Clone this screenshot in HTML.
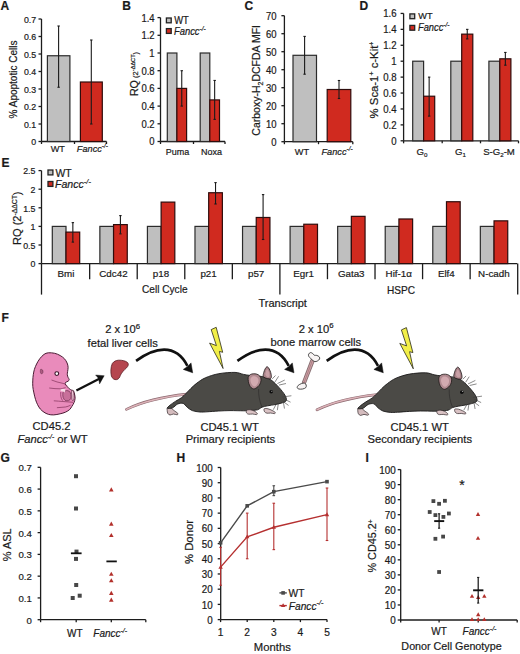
<!DOCTYPE html><html><head><meta charset="utf-8"><style>html,body{margin:0;padding:0;background:#fff;}svg{display:block;}text{font-family:"Liberation Sans",sans-serif;stroke:#1a1a1a;stroke-width:0.2px;}</style></head><body>
<svg width="520" height="654" viewBox="0 0 520 654">
<rect width="520" height="654" fill="#fff"/>
<text x="0.6" y="10" font-size="12" font-weight="bold" fill="#1a1a1a" >A</text>
<line x1="41.5" y1="141.5" x2="41.5" y2="19" stroke="#1c1c1c" stroke-width="1.3" />
<line x1="38.5" y1="141.5" x2="41.5" y2="141.5" stroke="#1c1c1c" stroke-width="1.3" />
<text transform="translate(36.2,145.2) scale(1,1.08)" font-size="8.8" text-anchor="end" fill="#1a1a1a" >0</text>
<line x1="38.5" y1="124" x2="41.5" y2="124" stroke="#1c1c1c" stroke-width="1.3" />
<text transform="translate(36.2,127.7) scale(1,1.08)" font-size="8.8" text-anchor="end" fill="#1a1a1a" >0.1</text>
<line x1="38.5" y1="106.5" x2="41.5" y2="106.5" stroke="#1c1c1c" stroke-width="1.3" />
<text transform="translate(36.2,110.2) scale(1,1.08)" font-size="8.8" text-anchor="end" fill="#1a1a1a" >0.2</text>
<line x1="38.5" y1="89" x2="41.5" y2="89" stroke="#1c1c1c" stroke-width="1.3" />
<text transform="translate(36.2,92.7) scale(1,1.08)" font-size="8.8" text-anchor="end" fill="#1a1a1a" >0.3</text>
<line x1="38.5" y1="71.5" x2="41.5" y2="71.5" stroke="#1c1c1c" stroke-width="1.3" />
<text transform="translate(36.2,75.2) scale(1,1.08)" font-size="8.8" text-anchor="end" fill="#1a1a1a" >0.4</text>
<line x1="38.5" y1="54" x2="41.5" y2="54" stroke="#1c1c1c" stroke-width="1.3" />
<text transform="translate(36.2,57.7) scale(1,1.08)" font-size="8.8" text-anchor="end" fill="#1a1a1a" >0.5</text>
<line x1="38.5" y1="36.5" x2="41.5" y2="36.5" stroke="#1c1c1c" stroke-width="1.3" />
<text transform="translate(36.2,40.2) scale(1,1.08)" font-size="8.8" text-anchor="end" fill="#1a1a1a" >0.6</text>
<line x1="38.5" y1="19" x2="41.5" y2="19" stroke="#1c1c1c" stroke-width="1.3" />
<text transform="translate(36.2,22.7) scale(1,1.08)" font-size="8.8" text-anchor="end" fill="#1a1a1a" >0.7</text>
<line x1="41.5" y1="141.5" x2="106.5" y2="141.5" stroke="#1c1c1c" stroke-width="1.3" />
<line x1="41.5" y1="141.5" x2="41.5" y2="144" stroke="#1c1c1c" stroke-width="1.3" />
<line x1="74.5" y1="141.5" x2="74.5" y2="144" stroke="#1c1c1c" stroke-width="1.3" />
<line x1="106.5" y1="141.5" x2="106.5" y2="144" stroke="#1c1c1c" stroke-width="1.3" />
<rect x="47.4" y="55.75" width="22.5" height="85.75" fill="#bfbfbf" stroke="#2b2b2b" stroke-width="1.2"/>
<rect x="80.4" y="82" width="21.9" height="59.5" fill="#d02a1f" stroke="#2e0c0c" stroke-width="1.2"/>
<line x1="58.6" y1="26" x2="58.6" y2="87.25" stroke="#1a1a1a" stroke-width="1.1" />
<line x1="57.4" y1="26" x2="59.8" y2="26" stroke="#1a1a1a" stroke-width="1.1" />
<line x1="57.4" y1="87.25" x2="59.8" y2="87.25" stroke="#1a1a1a" stroke-width="1.1" />
<line x1="91.3" y1="40" x2="91.3" y2="124" stroke="#1a1a1a" stroke-width="1.1" />
<line x1="90.1" y1="40" x2="92.5" y2="40" stroke="#1a1a1a" stroke-width="1.1" />
<line x1="90.1" y1="124" x2="92.5" y2="124" stroke="#1a1a1a" stroke-width="1.1" />
<text transform="translate(57.8,152) scale(1,1.08)" font-size="9.2" text-anchor="middle" fill="#1a1a1a" >WT</text>
<text transform="translate(76.8,151.8) scale(1,1.08)" font-size="9.2" fill="#1a1a1a"><tspan font-style="italic">Fancc</tspan><tspan font-size="6.44" dy="-3.5" font-style="italic">-/-</tspan></text>
<text transform="translate(16.6,79.5) rotate(-90)" font-size="10" text-anchor="middle" fill="#1a1a1a">% Apoptotic Cells</text>
<text x="122.2" y="10" font-size="12" font-weight="bold" fill="#1a1a1a" >B</text>
<line x1="160.5" y1="141.5" x2="160.5" y2="17.6" stroke="#1c1c1c" stroke-width="1.3" />
<line x1="157.5" y1="141.5" x2="160.5" y2="141.5" stroke="#1c1c1c" stroke-width="1.3" />
<text transform="translate(154.6,145.49) scale(1,1.08)" font-size="9.5" text-anchor="end" fill="#1a1a1a" >0</text>
<line x1="157.5" y1="123.8" x2="160.5" y2="123.8" stroke="#1c1c1c" stroke-width="1.3" />
<text transform="translate(154.6,127.79) scale(1,1.08)" font-size="9.5" text-anchor="end" fill="#1a1a1a" >0.2</text>
<line x1="157.5" y1="106.1" x2="160.5" y2="106.1" stroke="#1c1c1c" stroke-width="1.3" />
<text transform="translate(154.6,110.09) scale(1,1.08)" font-size="9.5" text-anchor="end" fill="#1a1a1a" >0.4</text>
<line x1="157.5" y1="88.4" x2="160.5" y2="88.4" stroke="#1c1c1c" stroke-width="1.3" />
<text transform="translate(154.6,92.39) scale(1,1.08)" font-size="9.5" text-anchor="end" fill="#1a1a1a" >0.6</text>
<line x1="157.5" y1="70.7" x2="160.5" y2="70.7" stroke="#1c1c1c" stroke-width="1.3" />
<text transform="translate(154.6,74.69) scale(1,1.08)" font-size="9.5" text-anchor="end" fill="#1a1a1a" >0.8</text>
<line x1="157.5" y1="53" x2="160.5" y2="53" stroke="#1c1c1c" stroke-width="1.3" />
<text transform="translate(154.6,56.99) scale(1,1.08)" font-size="9.5" text-anchor="end" fill="#1a1a1a" >1</text>
<line x1="157.5" y1="35.3" x2="160.5" y2="35.3" stroke="#1c1c1c" stroke-width="1.3" />
<text transform="translate(154.6,39.29) scale(1,1.08)" font-size="9.5" text-anchor="end" fill="#1a1a1a" >1.2</text>
<line x1="157.5" y1="17.6" x2="160.5" y2="17.6" stroke="#1c1c1c" stroke-width="1.3" />
<text transform="translate(154.6,21.59) scale(1,1.08)" font-size="9.5" text-anchor="end" fill="#1a1a1a" >1.4</text>
<line x1="160.5" y1="141.5" x2="225" y2="141.5" stroke="#1c1c1c" stroke-width="1.3" />
<line x1="160.5" y1="141.5" x2="160.5" y2="144" stroke="#1c1c1c" stroke-width="1.3" />
<line x1="193.5" y1="141.5" x2="193.5" y2="144" stroke="#1c1c1c" stroke-width="1.3" />
<line x1="225" y1="141.5" x2="225" y2="144" stroke="#1c1c1c" stroke-width="1.3" />
<rect x="167.3" y="53" width="9.6" height="88.5" fill="#bfbfbf" stroke="#2b2b2b" stroke-width="1.2"/>
<rect x="176.9" y="88.4" width="9.7" height="53.1" fill="#d02a1f" stroke="#2e0c0c" stroke-width="1.2"/>
<line x1="181.75" y1="70.7" x2="181.75" y2="106.1" stroke="#1a1a1a" stroke-width="1.1" />
<line x1="180.55" y1="70.7" x2="182.95" y2="70.7" stroke="#1a1a1a" stroke-width="1.1" />
<line x1="180.55" y1="106.1" x2="182.95" y2="106.1" stroke="#1a1a1a" stroke-width="1.1" />
<rect x="200.2" y="53" width="9.6" height="88.5" fill="#bfbfbf" stroke="#2b2b2b" stroke-width="1.2"/>
<rect x="209.8" y="99.91" width="9.7" height="41.59" fill="#d02a1f" stroke="#2e0c0c" stroke-width="1.2"/>
<line x1="214.65" y1="80.44" x2="214.65" y2="119.38" stroke="#1a1a1a" stroke-width="1.1" />
<line x1="213.45" y1="80.44" x2="215.85" y2="80.44" stroke="#1a1a1a" stroke-width="1.1" />
<line x1="213.45" y1="119.38" x2="215.85" y2="119.38" stroke="#1a1a1a" stroke-width="1.1" />
<text transform="translate(177.5,154.7) scale(1,1.08)" font-size="9" text-anchor="middle" fill="#1a1a1a" >Puma</text>
<text transform="translate(211.4,154.7) scale(1,1.08)" font-size="9" text-anchor="middle" fill="#1a1a1a" >Noxa</text>
<rect x="166.4" y="18" width="4.8" height="4.8" fill="#bfbfbf" stroke="#222" stroke-width="1.3"/>
<text transform="translate(174.2,23.6) scale(1,1.08)" font-size="9.4" fill="#1a1a1a" >WT</text>
<rect x="166.4" y="28.6" width="4.8" height="4.8" fill="#d02a1f" stroke="#222" stroke-width="1.3"/>
<text transform="translate(174,34.6) scale(1,1.08)" font-size="9.4" fill="#1a1a1a"><tspan font-style="italic">Fancc</tspan><tspan font-size="6.58" dy="-3.57" font-style="italic">-/-</tspan></text>
<text transform="translate(138.4,74) rotate(-90)" text-anchor="middle" fill="#1a1a1a" font-size="10.7">RQ<tspan font-size="7.6"> (2<tspan font-size="5.6" dy="-3.2">-ΔΔCT</tspan><tspan dy="3.2">)</tspan></tspan></text>
<text x="244.4" y="10" font-size="12" font-weight="bold" fill="#1a1a1a" >C</text>
<line x1="284.4" y1="141.7" x2="284.4" y2="15.7" stroke="#1c1c1c" stroke-width="1.3" />
<line x1="281.4" y1="141.7" x2="284.4" y2="141.7" stroke="#1c1c1c" stroke-width="1.3" />
<text transform="translate(276.6,145.69) scale(1,1.08)" font-size="9.5" text-anchor="end" fill="#1a1a1a" >0</text>
<line x1="281.4" y1="123.7" x2="284.4" y2="123.7" stroke="#1c1c1c" stroke-width="1.3" />
<text transform="translate(276.6,127.69) scale(1,1.08)" font-size="9.5" text-anchor="end" fill="#1a1a1a" >10</text>
<line x1="281.4" y1="105.7" x2="284.4" y2="105.7" stroke="#1c1c1c" stroke-width="1.3" />
<text transform="translate(276.6,109.69) scale(1,1.08)" font-size="9.5" text-anchor="end" fill="#1a1a1a" >20</text>
<line x1="281.4" y1="87.7" x2="284.4" y2="87.7" stroke="#1c1c1c" stroke-width="1.3" />
<text transform="translate(276.6,91.69) scale(1,1.08)" font-size="9.5" text-anchor="end" fill="#1a1a1a" >30</text>
<line x1="281.4" y1="69.7" x2="284.4" y2="69.7" stroke="#1c1c1c" stroke-width="1.3" />
<text transform="translate(276.6,73.69) scale(1,1.08)" font-size="9.5" text-anchor="end" fill="#1a1a1a" >40</text>
<line x1="281.4" y1="51.7" x2="284.4" y2="51.7" stroke="#1c1c1c" stroke-width="1.3" />
<text transform="translate(276.6,55.69) scale(1,1.08)" font-size="9.5" text-anchor="end" fill="#1a1a1a" >50</text>
<line x1="281.4" y1="33.7" x2="284.4" y2="33.7" stroke="#1c1c1c" stroke-width="1.3" />
<text transform="translate(276.6,37.69) scale(1,1.08)" font-size="9.5" text-anchor="end" fill="#1a1a1a" >60</text>
<line x1="281.4" y1="15.7" x2="284.4" y2="15.7" stroke="#1c1c1c" stroke-width="1.3" />
<text transform="translate(276.6,19.69) scale(1,1.08)" font-size="9.5" text-anchor="end" fill="#1a1a1a" >70</text>
<line x1="284.4" y1="141.7" x2="352.8" y2="141.7" stroke="#1c1c1c" stroke-width="1.3" />
<line x1="284.4" y1="141.7" x2="284.4" y2="144.2" stroke="#1c1c1c" stroke-width="1.3" />
<line x1="318.5" y1="141.7" x2="318.5" y2="144.2" stroke="#1c1c1c" stroke-width="1.3" />
<line x1="352.8" y1="141.7" x2="352.8" y2="144.2" stroke="#1c1c1c" stroke-width="1.3" />
<rect x="293" y="55.3" width="23.5" height="86.4" fill="#bfbfbf" stroke="#2b2b2b" stroke-width="1.2"/>
<rect x="327.2" y="89.5" width="23.6" height="52.2" fill="#d02a1f" stroke="#2e0c0c" stroke-width="1.2"/>
<line x1="304.6" y1="36.4" x2="304.6" y2="74.2" stroke="#1a1a1a" stroke-width="1.1" />
<line x1="303.4" y1="36.4" x2="305.8" y2="36.4" stroke="#1a1a1a" stroke-width="1.1" />
<line x1="303.4" y1="74.2" x2="305.8" y2="74.2" stroke="#1a1a1a" stroke-width="1.1" />
<line x1="339" y1="80.5" x2="339" y2="98.5" stroke="#1a1a1a" stroke-width="1.1" />
<line x1="337.8" y1="80.5" x2="340.2" y2="80.5" stroke="#1a1a1a" stroke-width="1.1" />
<line x1="337.8" y1="98.5" x2="340.2" y2="98.5" stroke="#1a1a1a" stroke-width="1.1" />
<text transform="translate(302,154.6) scale(1,1.08)" font-size="9.2" text-anchor="middle" fill="#1a1a1a" >WT</text>
<text transform="translate(321.5,154.6) scale(1,1.08)" font-size="9.2" fill="#1a1a1a"><tspan font-style="italic">Fancc</tspan><tspan font-size="6.44" dy="-3.5" font-style="italic">-/-</tspan></text>
<text transform="translate(260.3,80.3) rotate(-90)" text-anchor="middle" fill="#1a1a1a" font-size="10.5">Carboxy-H<tspan font-size="7" dy="2.5">2</tspan><tspan dy="-2.5">DCFDA MFI</tspan></text>
<text x="359.6" y="10" font-size="12" font-weight="bold" fill="#1a1a1a" >D</text>
<line x1="403.6" y1="140.8" x2="403.6" y2="13.44" stroke="#1c1c1c" stroke-width="1.3" />
<line x1="400.6" y1="140.8" x2="403.6" y2="140.8" stroke="#1c1c1c" stroke-width="1.3" />
<text transform="translate(396.6,144.83) scale(1,1.08)" font-size="9.6" text-anchor="end" fill="#1a1a1a" >0</text>
<line x1="400.6" y1="124.88" x2="403.6" y2="124.88" stroke="#1c1c1c" stroke-width="1.3" />
<text transform="translate(396.6,128.91) scale(1,1.08)" font-size="9.6" text-anchor="end" fill="#1a1a1a" >0.2</text>
<line x1="400.6" y1="108.96" x2="403.6" y2="108.96" stroke="#1c1c1c" stroke-width="1.3" />
<text transform="translate(396.6,112.99) scale(1,1.08)" font-size="9.6" text-anchor="end" fill="#1a1a1a" >0.4</text>
<line x1="400.6" y1="93.04" x2="403.6" y2="93.04" stroke="#1c1c1c" stroke-width="1.3" />
<text transform="translate(396.6,97.07) scale(1,1.08)" font-size="9.6" text-anchor="end" fill="#1a1a1a" >0.6</text>
<line x1="400.6" y1="77.12" x2="403.6" y2="77.12" stroke="#1c1c1c" stroke-width="1.3" />
<text transform="translate(396.6,81.15) scale(1,1.08)" font-size="9.6" text-anchor="end" fill="#1a1a1a" >0.8</text>
<line x1="400.6" y1="61.2" x2="403.6" y2="61.2" stroke="#1c1c1c" stroke-width="1.3" />
<text transform="translate(396.6,65.23) scale(1,1.08)" font-size="9.6" text-anchor="end" fill="#1a1a1a" >1</text>
<line x1="400.6" y1="45.28" x2="403.6" y2="45.28" stroke="#1c1c1c" stroke-width="1.3" />
<text transform="translate(396.6,49.31) scale(1,1.08)" font-size="9.6" text-anchor="end" fill="#1a1a1a" >1.2</text>
<line x1="400.6" y1="29.36" x2="403.6" y2="29.36" stroke="#1c1c1c" stroke-width="1.3" />
<text transform="translate(396.6,33.39) scale(1,1.08)" font-size="9.6" text-anchor="end" fill="#1a1a1a" >1.4</text>
<line x1="400.6" y1="13.44" x2="403.6" y2="13.44" stroke="#1c1c1c" stroke-width="1.3" />
<text transform="translate(396.6,17.47) scale(1,1.08)" font-size="9.6" text-anchor="end" fill="#1a1a1a" >1.6</text>
<line x1="403.6" y1="140.8" x2="518.5" y2="140.8" stroke="#1c1c1c" stroke-width="1.3" />
<line x1="403.6" y1="140.8" x2="403.6" y2="143.3" stroke="#1c1c1c" stroke-width="1.3" />
<line x1="442.2" y1="140.8" x2="442.2" y2="143.3" stroke="#1c1c1c" stroke-width="1.3" />
<line x1="480.5" y1="140.8" x2="480.5" y2="143.3" stroke="#1c1c1c" stroke-width="1.3" />
<line x1="518.5" y1="140.8" x2="518.5" y2="143.3" stroke="#1c1c1c" stroke-width="1.3" />
<rect x="412.7" y="61.2" width="10.9" height="79.6" fill="#bfbfbf" stroke="#2b2b2b" stroke-width="1.2"/>
<rect x="423.6" y="96.22" width="11.1" height="44.58" fill="#d02a1f" stroke="#2e0c0c" stroke-width="1.2"/>
<line x1="429.15" y1="77.12" x2="429.15" y2="116.12" stroke="#1a1a1a" stroke-width="1.1" />
<line x1="427.95" y1="77.12" x2="430.35" y2="77.12" stroke="#1a1a1a" stroke-width="1.1" />
<line x1="427.95" y1="116.12" x2="430.35" y2="116.12" stroke="#1a1a1a" stroke-width="1.1" />
<rect x="450.8" y="61.2" width="10.9" height="79.6" fill="#bfbfbf" stroke="#2b2b2b" stroke-width="1.2"/>
<rect x="461.7" y="34.14" width="11.1" height="106.66" fill="#d02a1f" stroke="#2e0c0c" stroke-width="1.2"/>
<line x1="467.25" y1="29.36" x2="467.25" y2="38.91" stroke="#1a1a1a" stroke-width="1.1" />
<line x1="466.05" y1="29.36" x2="468.45" y2="29.36" stroke="#1a1a1a" stroke-width="1.1" />
<line x1="466.05" y1="38.91" x2="468.45" y2="38.91" stroke="#1a1a1a" stroke-width="1.1" />
<rect x="488.9" y="61.2" width="10.9" height="79.6" fill="#bfbfbf" stroke="#2b2b2b" stroke-width="1.2"/>
<rect x="499.8" y="58.81" width="11.1" height="81.99" fill="#d02a1f" stroke="#2e0c0c" stroke-width="1.2"/>
<line x1="505.35" y1="52.44" x2="505.35" y2="65.18" stroke="#1a1a1a" stroke-width="1.1" />
<line x1="504.15" y1="52.44" x2="506.55" y2="52.44" stroke="#1a1a1a" stroke-width="1.1" />
<line x1="504.15" y1="65.18" x2="506.55" y2="65.18" stroke="#1a1a1a" stroke-width="1.1" />
<text x="422" y="155.4" font-size="9.6" text-anchor="middle" fill="#1a1a1a">G<tspan font-size="6.2" dy="1.8">0</tspan></text>
<text x="460.5" y="155.4" font-size="9.6" text-anchor="middle" fill="#1a1a1a">G<tspan font-size="6.2" dy="1.8">1</tspan></text>
<text x="499" y="155.4" font-size="9.6" text-anchor="middle" fill="#1a1a1a">S-G<tspan font-size="6.2" dy="1.8">2</tspan><tspan dy="-1.8">-M</tspan></text>
<rect x="409.9" y="13.9" width="4.8" height="4.8" fill="#bfbfbf" stroke="#222" stroke-width="1.3"/>
<text transform="translate(418.3,19) scale(1,1.08)" font-size="9.2" fill="#1a1a1a" >WT</text>
<rect x="409.9" y="25.4" width="4.8" height="4.8" fill="#d02a1f" stroke="#222" stroke-width="1.3"/>
<text transform="translate(418,30.9) scale(1,1.08)" font-size="9.3" fill="#1a1a1a"><tspan font-style="italic">Fancc</tspan><tspan font-size="6.51" dy="-3.53" font-style="italic">-/-</tspan></text>
<text transform="translate(377.6,80) rotate(-90) scale(1.07,1)" text-anchor="middle" fill="#1a1a1a" font-size="10.6">% Sca-1<tspan font-size="6.5" dy="-3.6">+</tspan><tspan dy="3.6"> c-Kit</tspan><tspan font-size="6.5" dy="-3.6">+</tspan></text>
<text x="1.5" y="167.2" font-size="12" font-weight="bold" fill="#1a1a1a" >E</text>
<line x1="41.5" y1="263.6" x2="41.5" y2="170.6" stroke="#1c1c1c" stroke-width="1.3" />
<line x1="38.5" y1="263.6" x2="41.5" y2="263.6" stroke="#1c1c1c" stroke-width="1.3" />
<text x="35.4" y="267.3" font-size="8.8" text-anchor="end" fill="#1a1a1a" >0</text>
<line x1="38.5" y1="245" x2="41.5" y2="245" stroke="#1c1c1c" stroke-width="1.3" />
<text x="35.4" y="248.7" font-size="8.8" text-anchor="end" fill="#1a1a1a" >0.5</text>
<line x1="38.5" y1="226.4" x2="41.5" y2="226.4" stroke="#1c1c1c" stroke-width="1.3" />
<text x="35.4" y="230.1" font-size="8.8" text-anchor="end" fill="#1a1a1a" >1</text>
<line x1="38.5" y1="207.8" x2="41.5" y2="207.8" stroke="#1c1c1c" stroke-width="1.3" />
<text x="35.4" y="211.5" font-size="8.8" text-anchor="end" fill="#1a1a1a" >1.5</text>
<line x1="38.5" y1="189.2" x2="41.5" y2="189.2" stroke="#1c1c1c" stroke-width="1.3" />
<text x="35.4" y="192.9" font-size="8.8" text-anchor="end" fill="#1a1a1a" >2</text>
<line x1="38.5" y1="170.6" x2="41.5" y2="170.6" stroke="#1c1c1c" stroke-width="1.3" />
<text x="35.4" y="174.3" font-size="8.8" text-anchor="end" fill="#1a1a1a" >2.5</text>
<line x1="41.5" y1="263.6" x2="517.2" y2="263.6" stroke="#1c1c1c" stroke-width="1.3" />
<line x1="41.5" y1="263.6" x2="41.5" y2="294.6" stroke="#1c1c1c" stroke-width="1.3" />
<line x1="89.66" y1="263.6" x2="89.66" y2="279.2" stroke="#1c1c1c" stroke-width="1.3" />
<line x1="137.22" y1="263.6" x2="137.22" y2="279.2" stroke="#1c1c1c" stroke-width="1.3" />
<line x1="184.78" y1="263.6" x2="184.78" y2="279.2" stroke="#1c1c1c" stroke-width="1.3" />
<line x1="232.34" y1="263.6" x2="232.34" y2="279.2" stroke="#1c1c1c" stroke-width="1.3" />
<line x1="279.9" y1="263.6" x2="279.9" y2="294.6" stroke="#1c1c1c" stroke-width="1.3" />
<line x1="327.46" y1="263.6" x2="327.46" y2="279.2" stroke="#1c1c1c" stroke-width="1.3" />
<line x1="375.02" y1="263.6" x2="375.02" y2="279.2" stroke="#1c1c1c" stroke-width="1.3" />
<line x1="422.58" y1="263.6" x2="422.58" y2="279.2" stroke="#1c1c1c" stroke-width="1.3" />
<line x1="470.14" y1="263.6" x2="470.14" y2="279.2" stroke="#1c1c1c" stroke-width="1.3" />
<line x1="517.7" y1="263.6" x2="517.7" y2="294.6" stroke="#1c1c1c" stroke-width="1.3" />
<rect x="52.3" y="226.4" width="13.7" height="37.2" fill="#bfbfbf" stroke="#2b2b2b" stroke-width="1.2"/>
<rect x="66" y="232.1" width="13.7" height="31.5" fill="#d02a1f" stroke="#2e0c0c" stroke-width="1.2"/>
<line x1="72.85" y1="222.62" x2="72.85" y2="242.11" stroke="#1a1a1a" stroke-width="1.1" />
<line x1="71.65" y1="222.62" x2="74.05" y2="222.62" stroke="#1a1a1a" stroke-width="1.1" />
<line x1="71.65" y1="242.11" x2="74.05" y2="242.11" stroke="#1a1a1a" stroke-width="1.1" />
<text x="65.88" y="277.4" font-size="9.8" text-anchor="middle" fill="#1a1a1a" >Bmi</text>
<rect x="99.86" y="226.4" width="13.7" height="37.2" fill="#bfbfbf" stroke="#2b2b2b" stroke-width="1.2"/>
<rect x="113.56" y="224.6" width="13.7" height="39" fill="#d02a1f" stroke="#2e0c0c" stroke-width="1.2"/>
<line x1="120.41" y1="215.6" x2="120.41" y2="233.86" stroke="#1a1a1a" stroke-width="1.1" />
<line x1="119.21" y1="215.6" x2="121.61" y2="215.6" stroke="#1a1a1a" stroke-width="1.1" />
<line x1="119.21" y1="233.86" x2="121.61" y2="233.86" stroke="#1a1a1a" stroke-width="1.1" />
<text x="113.44" y="277.4" font-size="9.8" text-anchor="middle" fill="#1a1a1a" >Cdc42</text>
<rect x="147.42" y="226.4" width="13.7" height="37.2" fill="#bfbfbf" stroke="#2b2b2b" stroke-width="1.2"/>
<rect x="161.12" y="202.1" width="13.7" height="61.5" fill="#d02a1f" stroke="#2e0c0c" stroke-width="1.2"/>
<text x="161" y="277.4" font-size="9.8" text-anchor="middle" fill="#1a1a1a" >p18</text>
<rect x="194.98" y="226.4" width="13.7" height="37.2" fill="#bfbfbf" stroke="#2b2b2b" stroke-width="1.2"/>
<rect x="208.68" y="192.73" width="13.7" height="70.87" fill="#d02a1f" stroke="#2e0c0c" stroke-width="1.2"/>
<line x1="215.53" y1="182.61" x2="215.53" y2="203.98" stroke="#1a1a1a" stroke-width="1.1" />
<line x1="214.33" y1="182.61" x2="216.73" y2="182.61" stroke="#1a1a1a" stroke-width="1.1" />
<line x1="214.33" y1="203.98" x2="216.73" y2="203.98" stroke="#1a1a1a" stroke-width="1.1" />
<text x="208.56" y="277.4" font-size="9.8" text-anchor="middle" fill="#1a1a1a" >p21</text>
<rect x="242.54" y="226.4" width="13.7" height="37.2" fill="#bfbfbf" stroke="#2b2b2b" stroke-width="1.2"/>
<rect x="256.24" y="217.48" width="13.7" height="46.12" fill="#d02a1f" stroke="#2e0c0c" stroke-width="1.2"/>
<line x1="263.09" y1="194.6" x2="263.09" y2="239.49" stroke="#1a1a1a" stroke-width="1.1" />
<line x1="261.89" y1="194.6" x2="264.29" y2="194.6" stroke="#1a1a1a" stroke-width="1.1" />
<line x1="261.89" y1="239.49" x2="264.29" y2="239.49" stroke="#1a1a1a" stroke-width="1.1" />
<text x="256.12" y="277.4" font-size="9.8" text-anchor="middle" fill="#1a1a1a" >p57</text>
<rect x="290.1" y="226.4" width="13.7" height="37.2" fill="#bfbfbf" stroke="#2b2b2b" stroke-width="1.2"/>
<rect x="303.8" y="224.23" width="13.7" height="39.37" fill="#d02a1f" stroke="#2e0c0c" stroke-width="1.2"/>
<text x="303.68" y="277.4" font-size="9.8" text-anchor="middle" fill="#1a1a1a" >Egr1</text>
<rect x="337.66" y="226.4" width="13.7" height="37.2" fill="#bfbfbf" stroke="#2b2b2b" stroke-width="1.2"/>
<rect x="351.36" y="216.35" width="13.7" height="47.25" fill="#d02a1f" stroke="#2e0c0c" stroke-width="1.2"/>
<text x="351.24" y="277.4" font-size="9.8" text-anchor="middle" fill="#1a1a1a" >Gata3</text>
<rect x="385.22" y="226.4" width="13.7" height="37.2" fill="#bfbfbf" stroke="#2b2b2b" stroke-width="1.2"/>
<rect x="398.92" y="218.98" width="13.7" height="44.62" fill="#d02a1f" stroke="#2e0c0c" stroke-width="1.2"/>
<text x="398.8" y="277.4" font-size="9.8" text-anchor="middle" fill="#1a1a1a" >Hif-1α</text>
<rect x="432.78" y="226.4" width="13.7" height="37.2" fill="#bfbfbf" stroke="#2b2b2b" stroke-width="1.2"/>
<rect x="446.48" y="201.73" width="13.7" height="61.87" fill="#d02a1f" stroke="#2e0c0c" stroke-width="1.2"/>
<text x="446.36" y="277.4" font-size="9.8" text-anchor="middle" fill="#1a1a1a" >Elf4</text>
<rect x="480.34" y="226.4" width="13.7" height="37.2" fill="#bfbfbf" stroke="#2b2b2b" stroke-width="1.2"/>
<rect x="494.04" y="220.85" width="13.7" height="42.75" fill="#d02a1f" stroke="#2e0c0c" stroke-width="1.2"/>
<text x="493.92" y="277.4" font-size="9.8" text-anchor="middle" fill="#1a1a1a" >N-cadh</text>
<text x="164.8" y="292.8" font-size="10.1" text-anchor="middle" fill="#1a1a1a" >Cell Cycle</text>
<text x="401" y="293.6" font-size="10.1" text-anchor="middle" fill="#1a1a1a" >HSPC</text>
<text x="282.7" y="306.5" font-size="11" text-anchor="middle" fill="#1a1a1a" >Transcript</text>
<rect x="48" y="170" width="4.9" height="4.9" fill="#bfbfbf" stroke="#222" stroke-width="1.3"/>
<text x="55.4" y="176.8" font-size="10.4" fill="#1a1a1a" >WT</text>
<rect x="48" y="181.5" width="4.9" height="4.9" fill="#d02a1f" stroke="#222" stroke-width="1.3"/>
<text transform="translate(55,188.3) scale(1,1.0)" font-size="10.6" fill="#1a1a1a"><tspan font-style="italic">Fancc</tspan><tspan font-size="7.42" dy="-4.03" font-style="italic">-/-</tspan></text>
<text transform="translate(20.6,218.2) rotate(-90)" text-anchor="middle" fill="#1a1a1a" font-size="11">RQ (2<tspan font-size="6.8" dy="-3.7">-ΔΔCT</tspan><tspan dy="3.7">)</tspan></text>
<text x="1.4" y="322.4" font-size="12" font-weight="bold" fill="#1a1a1a" >F</text>
<g>
  <path d="M48.3,352.8 C50.08,352.62 52.73,352.85 54.7,353.3 C56.67,353.75 58.48,354.6 60.1,355.5 C61.72,356.4 63.23,357.45 64.4,358.7 C65.57,359.95 66.48,361.57 67.1,363 C67.72,364.43 68.02,365.88 68.1,367.3 C68.18,368.72 67.73,370.27 67.6,371.5 C67.47,372.73 67.22,373.72 67.3,374.7 C67.38,375.68 67.78,376.58 68.1,377.4 C68.42,378.22 69.2,378.97 69.2,379.6 C69.2,380.23 68.7,380.73 68.1,381.2 C67.5,381.67 66.08,381.93 65.6,382.4 C65.12,382.87 64.95,383.32 65.2,384 C65.45,384.68 66.43,385.72 67.1,386.5 C67.77,387.28 68.4,388.07 69.2,388.7 C70,389.33 71.18,389.95 71.9,390.3 C72.62,390.65 73.07,390.18 73.5,390.8 C73.93,391.42 74.23,392.75 74.5,394 C74.77,395.25 75.18,396.87 75.1,398.3 C75.02,399.73 74.53,401.27 74,402.6 C73.47,403.93 72.62,405.15 71.9,406.3 C71.18,407.45 70.78,408.52 69.7,409.5 C68.62,410.48 67,411.48 65.4,412.2 C63.8,412.92 62.05,413.35 60.1,413.8 C58.15,414.25 55.67,414.82 53.7,414.9 C51.73,414.98 49.92,414.75 48.3,414.3 C46.68,413.85 45.33,413.08 44,412.2 C42.67,411.32 41.37,410.25 40.3,409 C39.23,407.75 38.4,406.3 37.6,404.7 C36.8,403.1 36.12,401.37 35.5,399.4 C34.88,397.43 34.35,395.05 33.9,392.9 C33.45,390.75 32.98,388.63 32.8,386.5 C32.62,384.37 32.72,382.07 32.8,380.1 C32.88,378.13 33.03,376.48 33.3,374.7 C33.57,372.92 33.85,371.18 34.4,369.4 C34.95,367.62 35.7,365.78 36.6,364 C37.5,362.22 38.57,360.3 39.8,358.7 C41.03,357.1 42.58,355.38 44,354.4 C45.42,353.42 46.52,352.98 48.3,352.8Z" fill="#e98bbb" stroke="#4a1c34" stroke-width="1"/>
  <path d="M63.4,391.6 C64,391 65.4,390.63 66.4,390.6 C67.4,390.57 68.67,390.77 69.4,391.4 C70.13,392.03 70.57,393.23 70.8,394.4 C71.03,395.57 71.17,397.37 70.8,398.4 C70.43,399.43 69.53,400.27 68.6,400.6 C67.67,400.93 66.1,400.9 65.2,400.4 C64.3,399.9 63.6,398.63 63.2,397.6 C62.8,396.57 62.77,395.2 62.8,394.2 C62.83,393.2 62.8,392.2 63.4,391.6Z" fill="#c8709a" stroke="#5a2440" stroke-width="0.6"/>
  <path d="M71.4,391 C71.57,390.17 72.4,390.17 72.8,390.6 C73.2,391.03 73.6,392.43 73.8,393.6 C74,394.77 74.1,396.43 74,397.6 C73.9,398.77 73.53,400.27 73.2,400.6 C72.87,400.93 72.23,400.43 72,399.6 C71.77,398.77 71.9,397.03 71.8,395.6 C71.7,394.17 71.23,391.83 71.4,391Z" fill="#f2c8d8" stroke="#4a1c34" stroke-width="0.6"/>
  <path d="M60.6,389 C62.4,388.6 64.4,388.8 65.6,389.6 L64.6,392.4 C63.4,391.4 62,391 60.8,391.2Z" fill="#f8dce8"/>
  <g fill="none" stroke="#7a2c52" stroke-width="0.65">
    <path d="M51.5,380 C55,381.5 59,382.6 63,383.4 C65,384 66.6,385 67.6,386.4"/>
    <path d="M49.2,388 C53,388.6 57,388.8 60.8,388.8 C63,388.4 64.6,387.8 65.6,387.6"/>
    <path d="M53.8,400.8 C57,401 60,401.3 63,401.5 C66,401.8 70,402 73,402.3"/>
    <path d="M56.9,407.7 C59.5,407.6 62.5,407.2 65.4,407 C67.4,406.6 69,406 70.6,405.2"/>
    <path d="M60.8,392 C60.4,395 60.8,398.4 62.6,400.6"/>
  </g>
  <path d="M40.6,369.4 C42.2,369 43.2,370.4 43,372.2 C42.8,373.6 41.6,374.2 40.8,373.4 C40.2,372.4 40.2,370.6 40.6,369.4Z" fill="#b05a82" stroke="#5c2c44" stroke-width="0.5"/>
  <circle cx="56.8" cy="373.6" r="1.9" fill="#fff" stroke="#3a1228" stroke-width="1.1"/>
</g>
<text x="51.5" y="430.4" font-size="11.2" text-anchor="middle" fill="#1a1a1a" >CD45.2</text>
<text x="17.4" y="443" font-size="11.2" fill="#1a1a1a"><tspan font-style="italic">Fancc</tspan><tspan font-size="6.6" dy="-4.2" font-style="italic">-/-</tspan><tspan dy="4.2"> or WT</tspan></text>
<line x1="76.4" y1="390.4" x2="99.8" y2="378.4" stroke="#111" stroke-width="2.3"/>
<path d="M104.2,375.7 L95.6,375 L98.6,378.6 L99.6,383.9Z" fill="#111" stroke="#111" stroke-width="0.4" stroke-linejoin="round"/>
<path d="M112.3,363.5 C114,361.2 116,360.4 118.6,360.2 C122,360.1 125.6,360.8 127.6,362.6 C128.8,364 128.4,366 126.6,367.8 C124.2,369.8 121.8,372.4 120.4,375.2 C119.6,377.6 118.8,379 116.8,379.6 C114.4,380 112.2,378.6 111.4,376 C110.6,372.4 110.6,367.4 112.3,363.5Z" fill="#b5464f" stroke="#5a1a22" stroke-width="0.8"/>
<text x="122.7" y="333.4" font-size="11.2" text-anchor="middle" fill="#1a1a1a">2 x 10<tspan font-size="7.8" dy="-4.2">6</tspan></text>
<text x="122.7" y="346.8" font-size="11.2" text-anchor="middle" fill="#1a1a1a" >fetal liver cells</text>
<text x="316.2" y="332.6" font-size="11.2" text-anchor="middle" fill="#1a1a1a">2 x 10<tspan font-size="7.8" dy="-4.2">6</tspan></text>
<text x="315.8" y="345.6" font-size="11.2" text-anchor="middle" fill="#1a1a1a" >bone marrow cells</text>
<path d="M136.1,360.9 C144.1,355 153.1,349.6 164.1,349.6 C174.1,349.6 182.1,355.5 187.4,365.8" fill="none" stroke="#111" stroke-width="2.6"/>
<path d="M192.7,372.8 L183.3,369.4 L187.5,366.6 L191,362.9Z" fill="#111" stroke="#111" stroke-width="0.5" stroke-linejoin="round"/>
<path d="M237.4,360.9 C245.4,355 254.4,349.6 265.4,349.6 C275.4,349.6 283.4,355.5 288.7,365.8" fill="none" stroke="#111" stroke-width="2.6"/>
<path d="M294,372.8 L284.6,369.4 L288.8,366.6 L292.3,362.9Z" fill="#111" stroke="#111" stroke-width="0.5" stroke-linejoin="round"/>
<path d="M326.7,360.9 C334.7,355 343.7,349.6 354.7,349.6 C364.7,349.6 372.7,355.5 378,365.8" fill="none" stroke="#111" stroke-width="2.6"/>
<path d="M383.3,372.8 L373.9,369.4 L378.1,366.6 L381.6,362.9Z" fill="#111" stroke="#111" stroke-width="0.5" stroke-linejoin="round"/>
<path d="M211.2,329.6 L216.2,327.3 L222.7,352.3 L219.4,351.4 L223.1,368.5 L209.6,343.1 L216.4,345.6Z" fill="#f2ef48" stroke="#2a2a1a" stroke-width="0.8" stroke-linejoin="round"/>
<path d="M211.2,329.6 L216.2,327.3 L222.7,352.3 L219.4,351.4 L223.1,368.5 L209.6,343.1 L216.4,345.6Z" transform="translate(190.2,0.3)" fill="#f2ef48" stroke="#2a2a1a" stroke-width="0.8" stroke-linejoin="round"/>
<path d="M311,359.4 L314.4,360.8 L305.4,383.8 L302.2,382.6Z" fill="#cda2a7" stroke="#4e3236" stroke-width="0.6"/>
<path d="M312.2,361 L304,382.8" stroke="#9a6a70" stroke-width="0.6"/>
<path d="M308.6,354.2 C308.87,353.57 309.73,352.73 310.4,352.6 C311.07,352.47 311.97,352.97 312.6,353.4 C313.23,353.83 313.5,354.87 314.2,355.2 C314.9,355.53 315.97,355.13 316.8,355.4 C317.63,355.67 318.73,356.2 319.2,356.8 C319.67,357.4 319.9,358.3 319.6,359 C319.3,359.7 318.2,360.57 317.4,361 C316.6,361.43 315.63,361.77 314.8,361.6 C313.97,361.43 313.1,360.53 312.4,360 C311.7,359.47 311.2,359 310.6,358.4 C310,357.8 309.13,357.1 308.8,356.4 C308.47,355.7 308.33,354.83 308.6,354.2Z" fill="#f8f4f4" stroke="#222" stroke-width="0.8"/>
<path d="M301.4,383.6 C302.47,383.23 303.8,382.97 304.6,383.2 C305.4,383.43 306,384.27 306.2,385 C306.4,385.73 306.4,386.93 305.8,387.6 C305.2,388.27 303.77,388.77 302.6,389 C301.43,389.23 299.7,389.23 298.8,389 C297.9,388.77 297.3,388.2 297.2,387.6 C297.1,387 297.5,386.07 298.2,385.4 C298.9,384.73 300.33,383.97 301.4,383.6Z" fill="#f8f4f4" stroke="#222" stroke-width="0.8"/>
<g>
<path d="M126.4,409.4 Q150,398 186.8,394.2" fill="none" stroke="#8c6a70" stroke-width="2.7" stroke-linecap="round"/>
<path d="M126.4,409.4 Q150,398 186.8,394.2" fill="none" stroke="#ddb3b9" stroke-width="1.5" stroke-linecap="round"/>
<path d="M167.4,407.8 C167.97,407.33 169.57,407.2 170.6,407.6 C171.63,408 172.4,409.23 173.6,410.2 C174.8,411.17 177.23,412.63 177.8,413.4 C178.37,414.17 177.73,414.7 177,414.8 C176.27,414.9 174.57,413.97 173.4,414 C172.23,414.03 170.93,415.1 170,415 C169.07,414.9 168.27,414.17 167.8,413.4 C167.33,412.63 167.27,411.33 167.2,410.4 C167.13,409.47 166.83,408.27 167.4,407.8Z" fill="#d4bcbe" stroke="#2e2426" stroke-width="0.7"/>
<path d="M186.2,393.3 C187.73,391.78 189.02,390.2 190.8,388.5 C192.58,386.8 194.47,384.88 196.9,383.1 C199.33,381.32 201.75,379.37 205.4,377.8 C209.05,376.23 213.87,374.6 218.8,373.7 C223.73,372.8 230.88,372.28 235,372.4 C239.12,372.52 241,373.9 243.5,374.4 C246,374.9 247.58,375.13 250,375.4 C252.42,375.67 255.67,375.73 258,376 C260.33,376.27 261.93,376.42 264,377 C266.07,377.58 268.22,378.1 270.4,379.5 C272.58,380.9 274.87,383.08 277.1,385.4 C279.33,387.72 282.25,391.17 283.8,393.4 C285.35,395.63 286.13,397.43 286.4,398.8 C286.67,400.17 286.3,400.87 285.4,401.6 C284.5,402.33 282.73,402.7 281,403.2 C279.27,403.7 277.22,404.17 275,404.6 C272.78,405.03 269.87,405.37 267.7,405.8 C265.53,406.23 263.7,406.53 262,407.2 C260.3,407.87 259.5,409.23 257.5,409.8 C255.5,410.37 252.33,410.43 250,410.6 C247.67,410.77 246.83,410.8 243.5,410.8 C240.17,410.8 234.12,410.57 230,410.6 C225.88,410.63 222.63,410.8 218.8,411 C214.97,411.2 210.13,411.63 207,411.8 C203.87,411.97 202.45,412.2 200,412 C197.55,411.8 194.43,411.4 192.3,410.6 C190.17,409.8 188.72,408.4 187.2,407.2 C185.68,406 184.78,403.93 183.2,403.4 C181.62,402.87 179.47,403.27 177.7,404 C175.93,404.73 174.32,407.1 172.6,407.8 C170.88,408.5 167.83,408.63 167.4,408.2 C166.97,407.77 168.67,406.33 170,405.2 C171.33,404.07 173.47,402.67 175.4,401.4 C177.33,400.13 179.8,398.95 181.6,397.6 C183.4,396.25 184.67,394.82 186.2,393.3Z" fill="#4b4a46" stroke="#1b1a1a" stroke-width="0.9"/>
<path d="M246.6,410.4 C247.2,409.87 248.93,409.7 250.2,409.8 C251.47,409.9 253.03,410.4 254.2,411 C255.37,411.6 256.83,412.8 257.2,413.4 C257.57,414 257.17,414.5 256.4,414.6 C255.63,414.7 253.87,414.07 252.6,414 C251.33,413.93 249.8,414.37 248.8,414.2 C247.8,414.03 246.97,413.63 246.6,413 C246.23,412.37 246,410.93 246.6,410.4Z" fill="#d9c2c4" stroke="#2e2426" stroke-width="0.7"/>
<path d="M264.2,408.8 C264.77,408.3 266.7,408.53 268,408.8 C269.3,409.07 270.8,409.8 272,410.4 C273.2,411 274.8,411.87 275.2,412.4 C275.6,412.93 275.17,413.5 274.4,413.6 C273.63,413.7 271.83,413.07 270.6,413 C269.37,412.93 268,413.4 267,413.2 C266,413 265.07,412.53 264.6,411.8 C264.13,411.07 263.63,409.3 264.2,408.8Z" fill="#d9c2c4" stroke="#2e2426" stroke-width="0.7"/>
<path d="M263.4,376.6 C262.8,375.57 263.5,373.7 263.8,372.4 C264.1,371.1 264.7,369.73 265.2,368.8 C265.7,367.87 266.27,367 266.8,366.8 C267.33,366.6 267.87,366.97 268.4,367.6 C268.93,368.23 269.53,369.43 270,370.6 C270.47,371.77 271.03,373.33 271.2,374.6 C271.37,375.87 271.63,377.53 271,378.2 C270.37,378.87 268.67,378.87 267.4,378.6 C266.13,378.33 264,377.63 263.4,376.6Z" fill="#a88288" stroke="#1e1818" stroke-width="0.8"/>
<path d="M265.4,374.6 C265.2,373.63 265.73,372.1 266,371.2 C266.27,370.3 266.6,369.3 267,369.2 C267.4,369.1 268,369.87 268.4,370.6 C268.8,371.33 269.23,372.6 269.4,373.6 C269.57,374.6 269.77,376.03 269.4,376.6 C269.03,377.17 267.87,377.33 267.2,377 C266.53,376.67 265.6,375.57 265.4,374.6Z" fill="#c8a0a6"/>
<path d="M248.2,377.5 C248.4,376.43 249.05,375.77 249.6,375.2 C250.15,374.63 250.6,374.33 251.5,374.1 C252.4,373.87 253.87,373.68 255,373.8 C256.13,373.92 257.37,374.2 258.3,374.8 C259.23,375.4 260.15,376.43 260.6,377.4 C261.05,378.37 261.1,379.5 261,380.6 C260.9,381.7 260.5,383 260,384 C259.5,385 258.97,385.78 258,386.6 C257.03,387.42 255.33,388.73 254.2,388.9 C253.07,389.07 252,388.25 251.2,387.6 C250.4,386.95 249.87,386 249.4,385 C248.93,384 248.6,382.85 248.4,381.6 C248.2,380.35 248,378.57 248.2,377.5Z" fill="#b08a90" stroke="#1e1818" stroke-width="0.8"/>
<path d="M250.6,378.6 C250.9,377.73 251.6,376.77 252.4,376.4 C253.2,376.03 254.47,376.07 255.4,376.4 C256.33,376.73 257.5,377.53 258,378.4 C258.5,379.27 258.63,380.47 258.4,381.6 C258.17,382.73 257.33,384.4 256.6,385.2 C255.87,386 254.8,386.5 254,386.4 C253.2,386.3 252.37,385.4 251.8,384.6 C251.23,383.8 250.8,382.6 250.6,381.6 C250.4,380.6 250.3,379.47 250.6,378.6Z" fill="#d2aab0"/>
<path d="M258.6,389 C258.4,395 259.4,401 262,407" fill="none" stroke="#2a2828" stroke-width="0.6"/>
<circle cx="271.2" cy="391.8" r="1.8" fill="#0d0d0d"/><circle cx="271.8" cy="391.2" r="0.5" fill="#ccc"/>
<g stroke="#3a3a3a" stroke-width="0.6" fill="none" stroke-linecap="round"><path d="M272.5,378.6 L275.2,375.8 M275.2,381.6 L278.4,376.6 M277.8,383.4 L284.4,380.2 M279.4,385 L285.6,383.6"/><path d="M282.6,397 L291,395.8 M283.6,398.8 L290.2,402 M283,401.4 L288.2,405.2 M283.6,403.4 L284.4,408.2 M276,404.6 L273.4,409.4 M278.2,404.4 L277.4,409.8"/></g>
</g>
<g transform="translate(190.6,0.4)"><g>
<path d="M126.4,409.4 Q150,398 186.8,394.2" fill="none" stroke="#8c6a70" stroke-width="2.7" stroke-linecap="round"/>
<path d="M126.4,409.4 Q150,398 186.8,394.2" fill="none" stroke="#ddb3b9" stroke-width="1.5" stroke-linecap="round"/>
<path d="M167.4,407.8 C167.97,407.33 169.57,407.2 170.6,407.6 C171.63,408 172.4,409.23 173.6,410.2 C174.8,411.17 177.23,412.63 177.8,413.4 C178.37,414.17 177.73,414.7 177,414.8 C176.27,414.9 174.57,413.97 173.4,414 C172.23,414.03 170.93,415.1 170,415 C169.07,414.9 168.27,414.17 167.8,413.4 C167.33,412.63 167.27,411.33 167.2,410.4 C167.13,409.47 166.83,408.27 167.4,407.8Z" fill="#d4bcbe" stroke="#2e2426" stroke-width="0.7"/>
<path d="M186.2,393.3 C187.73,391.78 189.02,390.2 190.8,388.5 C192.58,386.8 194.47,384.88 196.9,383.1 C199.33,381.32 201.75,379.37 205.4,377.8 C209.05,376.23 213.87,374.6 218.8,373.7 C223.73,372.8 230.88,372.28 235,372.4 C239.12,372.52 241,373.9 243.5,374.4 C246,374.9 247.58,375.13 250,375.4 C252.42,375.67 255.67,375.73 258,376 C260.33,376.27 261.93,376.42 264,377 C266.07,377.58 268.22,378.1 270.4,379.5 C272.58,380.9 274.87,383.08 277.1,385.4 C279.33,387.72 282.25,391.17 283.8,393.4 C285.35,395.63 286.13,397.43 286.4,398.8 C286.67,400.17 286.3,400.87 285.4,401.6 C284.5,402.33 282.73,402.7 281,403.2 C279.27,403.7 277.22,404.17 275,404.6 C272.78,405.03 269.87,405.37 267.7,405.8 C265.53,406.23 263.7,406.53 262,407.2 C260.3,407.87 259.5,409.23 257.5,409.8 C255.5,410.37 252.33,410.43 250,410.6 C247.67,410.77 246.83,410.8 243.5,410.8 C240.17,410.8 234.12,410.57 230,410.6 C225.88,410.63 222.63,410.8 218.8,411 C214.97,411.2 210.13,411.63 207,411.8 C203.87,411.97 202.45,412.2 200,412 C197.55,411.8 194.43,411.4 192.3,410.6 C190.17,409.8 188.72,408.4 187.2,407.2 C185.68,406 184.78,403.93 183.2,403.4 C181.62,402.87 179.47,403.27 177.7,404 C175.93,404.73 174.32,407.1 172.6,407.8 C170.88,408.5 167.83,408.63 167.4,408.2 C166.97,407.77 168.67,406.33 170,405.2 C171.33,404.07 173.47,402.67 175.4,401.4 C177.33,400.13 179.8,398.95 181.6,397.6 C183.4,396.25 184.67,394.82 186.2,393.3Z" fill="#4b4a46" stroke="#1b1a1a" stroke-width="0.9"/>
<path d="M246.6,410.4 C247.2,409.87 248.93,409.7 250.2,409.8 C251.47,409.9 253.03,410.4 254.2,411 C255.37,411.6 256.83,412.8 257.2,413.4 C257.57,414 257.17,414.5 256.4,414.6 C255.63,414.7 253.87,414.07 252.6,414 C251.33,413.93 249.8,414.37 248.8,414.2 C247.8,414.03 246.97,413.63 246.6,413 C246.23,412.37 246,410.93 246.6,410.4Z" fill="#d9c2c4" stroke="#2e2426" stroke-width="0.7"/>
<path d="M264.2,408.8 C264.77,408.3 266.7,408.53 268,408.8 C269.3,409.07 270.8,409.8 272,410.4 C273.2,411 274.8,411.87 275.2,412.4 C275.6,412.93 275.17,413.5 274.4,413.6 C273.63,413.7 271.83,413.07 270.6,413 C269.37,412.93 268,413.4 267,413.2 C266,413 265.07,412.53 264.6,411.8 C264.13,411.07 263.63,409.3 264.2,408.8Z" fill="#d9c2c4" stroke="#2e2426" stroke-width="0.7"/>
<path d="M263.4,376.6 C262.8,375.57 263.5,373.7 263.8,372.4 C264.1,371.1 264.7,369.73 265.2,368.8 C265.7,367.87 266.27,367 266.8,366.8 C267.33,366.6 267.87,366.97 268.4,367.6 C268.93,368.23 269.53,369.43 270,370.6 C270.47,371.77 271.03,373.33 271.2,374.6 C271.37,375.87 271.63,377.53 271,378.2 C270.37,378.87 268.67,378.87 267.4,378.6 C266.13,378.33 264,377.63 263.4,376.6Z" fill="#a88288" stroke="#1e1818" stroke-width="0.8"/>
<path d="M265.4,374.6 C265.2,373.63 265.73,372.1 266,371.2 C266.27,370.3 266.6,369.3 267,369.2 C267.4,369.1 268,369.87 268.4,370.6 C268.8,371.33 269.23,372.6 269.4,373.6 C269.57,374.6 269.77,376.03 269.4,376.6 C269.03,377.17 267.87,377.33 267.2,377 C266.53,376.67 265.6,375.57 265.4,374.6Z" fill="#c8a0a6"/>
<path d="M248.2,377.5 C248.4,376.43 249.05,375.77 249.6,375.2 C250.15,374.63 250.6,374.33 251.5,374.1 C252.4,373.87 253.87,373.68 255,373.8 C256.13,373.92 257.37,374.2 258.3,374.8 C259.23,375.4 260.15,376.43 260.6,377.4 C261.05,378.37 261.1,379.5 261,380.6 C260.9,381.7 260.5,383 260,384 C259.5,385 258.97,385.78 258,386.6 C257.03,387.42 255.33,388.73 254.2,388.9 C253.07,389.07 252,388.25 251.2,387.6 C250.4,386.95 249.87,386 249.4,385 C248.93,384 248.6,382.85 248.4,381.6 C248.2,380.35 248,378.57 248.2,377.5Z" fill="#b08a90" stroke="#1e1818" stroke-width="0.8"/>
<path d="M250.6,378.6 C250.9,377.73 251.6,376.77 252.4,376.4 C253.2,376.03 254.47,376.07 255.4,376.4 C256.33,376.73 257.5,377.53 258,378.4 C258.5,379.27 258.63,380.47 258.4,381.6 C258.17,382.73 257.33,384.4 256.6,385.2 C255.87,386 254.8,386.5 254,386.4 C253.2,386.3 252.37,385.4 251.8,384.6 C251.23,383.8 250.8,382.6 250.6,381.6 C250.4,380.6 250.3,379.47 250.6,378.6Z" fill="#d2aab0"/>
<path d="M258.6,389 C258.4,395 259.4,401 262,407" fill="none" stroke="#2a2828" stroke-width="0.6"/>
<circle cx="271.2" cy="391.8" r="1.8" fill="#0d0d0d"/><circle cx="271.8" cy="391.2" r="0.5" fill="#ccc"/>
<g stroke="#3a3a3a" stroke-width="0.6" fill="none" stroke-linecap="round"><path d="M272.5,378.6 L275.2,375.8 M275.2,381.6 L278.4,376.6 M277.8,383.4 L284.4,380.2 M279.4,385 L285.6,383.6"/><path d="M282.6,397 L291,395.8 M283.6,398.8 L290.2,402 M283,401.4 L288.2,405.2 M283.6,403.4 L284.4,408.2 M276,404.6 L273.4,409.4 M278.2,404.4 L277.4,409.8"/></g>
</g></g>
<text x="229.6" y="430.6" font-size="11.2" text-anchor="middle" fill="#1a1a1a" >CD45.1 WT</text>
<text x="230.4" y="443.4" font-size="11.2" text-anchor="middle" fill="#1a1a1a" >Primary recipients</text>
<text x="419.6" y="430.8" font-size="11.2" text-anchor="middle" fill="#1a1a1a" >CD45.1 WT</text>
<text x="419.8" y="443.4" font-size="11.2" text-anchor="middle" fill="#1a1a1a" >Secondary recipients</text>
<text x="0.6" y="462.2" font-size="12" font-weight="bold" fill="#1a1a1a" >G</text>
<line x1="40.6" y1="619.7" x2="40.6" y2="467.31" stroke="#1c1c1c" stroke-width="1.3" />
<line x1="37.6" y1="619.7" x2="40.6" y2="619.7" stroke="#1c1c1c" stroke-width="1.3" />
<text transform="translate(31.8,623.73) scale(1,1.04)" font-size="9.6" text-anchor="end" fill="#1a1a1a" >0</text>
<line x1="37.6" y1="597.93" x2="40.6" y2="597.93" stroke="#1c1c1c" stroke-width="1.3" />
<text transform="translate(31.8,601.96) scale(1,1.04)" font-size="9.6" text-anchor="end" fill="#1a1a1a" >0.1</text>
<line x1="37.6" y1="576.16" x2="40.6" y2="576.16" stroke="#1c1c1c" stroke-width="1.3" />
<text transform="translate(31.8,580.19) scale(1,1.04)" font-size="9.6" text-anchor="end" fill="#1a1a1a" >0.2</text>
<line x1="37.6" y1="554.39" x2="40.6" y2="554.39" stroke="#1c1c1c" stroke-width="1.3" />
<text transform="translate(31.8,558.42) scale(1,1.04)" font-size="9.6" text-anchor="end" fill="#1a1a1a" >0.3</text>
<line x1="37.6" y1="532.62" x2="40.6" y2="532.62" stroke="#1c1c1c" stroke-width="1.3" />
<text transform="translate(31.8,536.65) scale(1,1.04)" font-size="9.6" text-anchor="end" fill="#1a1a1a" >0.4</text>
<line x1="37.6" y1="510.85" x2="40.6" y2="510.85" stroke="#1c1c1c" stroke-width="1.3" />
<text transform="translate(31.8,514.88) scale(1,1.04)" font-size="9.6" text-anchor="end" fill="#1a1a1a" >0.5</text>
<line x1="37.6" y1="489.08" x2="40.6" y2="489.08" stroke="#1c1c1c" stroke-width="1.3" />
<text transform="translate(31.8,493.11) scale(1,1.04)" font-size="9.6" text-anchor="end" fill="#1a1a1a" >0.6</text>
<line x1="37.6" y1="467.31" x2="40.6" y2="467.31" stroke="#1c1c1c" stroke-width="1.3" />
<text transform="translate(31.8,471.34) scale(1,1.04)" font-size="9.6" text-anchor="end" fill="#1a1a1a" >0.7</text>
<line x1="40.6" y1="619.7" x2="145.8" y2="619.7" stroke="#1c1c1c" stroke-width="1.3" />
<line x1="40.6" y1="619.7" x2="40.6" y2="622.2" stroke="#1c1c1c" stroke-width="1.3" />
<line x1="76.2" y1="619.7" x2="76.2" y2="622.2" stroke="#1c1c1c" stroke-width="1.3" />
<line x1="111.3" y1="619.7" x2="111.3" y2="622.2" stroke="#1c1c1c" stroke-width="1.3" />
<line x1="145.8" y1="619.7" x2="145.8" y2="622.2" stroke="#1c1c1c" stroke-width="1.3" />
<rect x="74" y="474.2" width="4" height="4" fill="#474747"/>
<rect x="74" y="506.5" width="4" height="4" fill="#474747"/>
<rect x="74.5" y="549.6" width="4" height="4" fill="#474747"/>
<rect x="74" y="556.9" width="4" height="4" fill="#474747"/>
<rect x="74.2" y="583" width="4" height="4" fill="#474747"/>
<rect x="70.7" y="596" width="4" height="4" fill="#474747"/>
<rect x="77.7" y="593.7" width="4" height="4" fill="#474747"/>
<line x1="70.9" y1="553.3" x2="81.6" y2="553.3" stroke="#111" stroke-width="1.8" />
<path d="M111.3,487.3 L113.6,491.4 L109,491.4Z" fill="#b3302b"/>
<path d="M111.3,521.6 L113.6,525.7 L109,525.7Z" fill="#b3302b"/>
<path d="M111.3,532.9 L113.6,537 L109,537Z" fill="#b3302b"/>
<path d="M111.3,571.7 L113.6,575.8 L109,575.8Z" fill="#b3302b"/>
<path d="M111.3,578.2 L113.6,582.3 L109,582.3Z" fill="#b3302b"/>
<path d="M111.3,590.8 L113.6,594.9 L109,594.9Z" fill="#b3302b"/>
<path d="M111.3,597.6 L113.6,601.7 L109,601.7Z" fill="#b3302b"/>
<line x1="106.4" y1="561.4" x2="116.8" y2="561.4" stroke="#111" stroke-width="1.8" />
<text transform="translate(74.8,637.4) scale(1,1.04)" font-size="10" text-anchor="middle" fill="#1a1a1a" >WT</text>
<text transform="translate(93.3,637.4) scale(1,1.04)" font-size="10" fill="#1a1a1a"><tspan font-style="italic">Fancc</tspan><tspan font-size="7" dy="-3.8" font-style="italic">-/-</tspan></text>
<text transform="translate(11.4,544.8) rotate(-90)" text-anchor="middle" fill="#1a1a1a" font-size="11">% ASL</text>
<text x="176.4" y="462.2" font-size="12" font-weight="bold" fill="#1a1a1a" >H</text>
<line x1="220.7" y1="619.6" x2="220.7" y2="467.5" stroke="#1c1c1c" stroke-width="1.3" />
<line x1="217.7" y1="619.6" x2="220.7" y2="619.6" stroke="#1c1c1c" stroke-width="1.3" />
<text transform="translate(212.7,623.72) scale(1,1.04)" font-size="9.8" text-anchor="end" fill="#1a1a1a" >0</text>
<line x1="217.7" y1="604.39" x2="220.7" y2="604.39" stroke="#1c1c1c" stroke-width="1.3" />
<text transform="translate(212.7,608.51) scale(1,1.04)" font-size="9.8" text-anchor="end" fill="#1a1a1a" >10</text>
<line x1="217.7" y1="589.18" x2="220.7" y2="589.18" stroke="#1c1c1c" stroke-width="1.3" />
<text transform="translate(212.7,593.3) scale(1,1.04)" font-size="9.8" text-anchor="end" fill="#1a1a1a" >20</text>
<line x1="217.7" y1="573.97" x2="220.7" y2="573.97" stroke="#1c1c1c" stroke-width="1.3" />
<text transform="translate(212.7,578.09) scale(1,1.04)" font-size="9.8" text-anchor="end" fill="#1a1a1a" >30</text>
<line x1="217.7" y1="558.76" x2="220.7" y2="558.76" stroke="#1c1c1c" stroke-width="1.3" />
<text transform="translate(212.7,562.88) scale(1,1.04)" font-size="9.8" text-anchor="end" fill="#1a1a1a" >40</text>
<line x1="217.7" y1="543.55" x2="220.7" y2="543.55" stroke="#1c1c1c" stroke-width="1.3" />
<text transform="translate(212.7,547.67) scale(1,1.04)" font-size="9.8" text-anchor="end" fill="#1a1a1a" >50</text>
<line x1="217.7" y1="528.34" x2="220.7" y2="528.34" stroke="#1c1c1c" stroke-width="1.3" />
<text transform="translate(212.7,532.46) scale(1,1.04)" font-size="9.8" text-anchor="end" fill="#1a1a1a" >60</text>
<line x1="217.7" y1="513.13" x2="220.7" y2="513.13" stroke="#1c1c1c" stroke-width="1.3" />
<text transform="translate(212.7,517.25) scale(1,1.04)" font-size="9.8" text-anchor="end" fill="#1a1a1a" >70</text>
<line x1="217.7" y1="497.92" x2="220.7" y2="497.92" stroke="#1c1c1c" stroke-width="1.3" />
<text transform="translate(212.7,502.04) scale(1,1.04)" font-size="9.8" text-anchor="end" fill="#1a1a1a" >80</text>
<line x1="217.7" y1="482.71" x2="220.7" y2="482.71" stroke="#1c1c1c" stroke-width="1.3" />
<text transform="translate(212.7,486.83) scale(1,1.04)" font-size="9.8" text-anchor="end" fill="#1a1a1a" >90</text>
<line x1="217.7" y1="467.5" x2="220.7" y2="467.5" stroke="#1c1c1c" stroke-width="1.3" />
<text transform="translate(212.7,471.62) scale(1,1.04)" font-size="9.8" text-anchor="end" fill="#1a1a1a" >100</text>
<line x1="220.7" y1="619.6" x2="327" y2="619.6" stroke="#1c1c1c" stroke-width="1.3" />
<line x1="220.6" y1="619.6" x2="220.6" y2="622.1" stroke="#1c1c1c" stroke-width="1.3" />
<text transform="translate(220.6,635.6) scale(1,1.04)" font-size="10.2" text-anchor="middle" fill="#1a1a1a" >1</text>
<line x1="247.2" y1="619.6" x2="247.2" y2="622.1" stroke="#1c1c1c" stroke-width="1.3" />
<text transform="translate(247.2,635.6) scale(1,1.04)" font-size="10.2" text-anchor="middle" fill="#1a1a1a" >2</text>
<line x1="273.8" y1="619.6" x2="273.8" y2="622.1" stroke="#1c1c1c" stroke-width="1.3" />
<text transform="translate(273.8,635.6) scale(1,1.04)" font-size="10.2" text-anchor="middle" fill="#1a1a1a" >3</text>
<line x1="300.4" y1="619.6" x2="300.4" y2="622.1" stroke="#1c1c1c" stroke-width="1.3" />
<text transform="translate(300.4,635.6) scale(1,1.04)" font-size="10.2" text-anchor="middle" fill="#1a1a1a" >4</text>
<line x1="327" y1="619.6" x2="327" y2="622.1" stroke="#1c1c1c" stroke-width="1.3" />
<text transform="translate(327,635.6) scale(1,1.04)" font-size="10.2" text-anchor="middle" fill="#1a1a1a" >5</text>
<text transform="translate(272.3,650.6) scale(1,1.04)" font-size="11.3" text-anchor="middle" fill="#1a1a1a" >Months</text>
<text transform="translate(192.6,542) rotate(-90) scale(1.07,1)" text-anchor="middle" fill="#1a1a1a" font-size="10.6">% Donor</text>
<line x1="220.6" y1="547.35" x2="220.6" y2="585.23" stroke="#b53030" stroke-width="1.1" />
<line x1="219.3" y1="547.35" x2="221.9" y2="547.35" stroke="#b53030" stroke-width="1.1" />
<line x1="219.3" y1="585.23" x2="221.9" y2="585.23" stroke="#b53030" stroke-width="1.1" />
<line x1="247.2" y1="513.13" x2="247.2" y2="558.76" stroke="#b53030" stroke-width="1.1" />
<line x1="245.9" y1="513.13" x2="248.5" y2="513.13" stroke="#b53030" stroke-width="1.1" />
<line x1="245.9" y1="558.76" x2="248.5" y2="558.76" stroke="#b53030" stroke-width="1.1" />
<line x1="273.8" y1="503.24" x2="273.8" y2="549.63" stroke="#b53030" stroke-width="1.1" />
<line x1="272.5" y1="503.24" x2="275.1" y2="503.24" stroke="#b53030" stroke-width="1.1" />
<line x1="272.5" y1="549.63" x2="275.1" y2="549.63" stroke="#b53030" stroke-width="1.1" />
<line x1="327" y1="488.03" x2="327" y2="540.51" stroke="#b53030" stroke-width="1.1" />
<line x1="325.7" y1="488.03" x2="328.3" y2="488.03" stroke="#b53030" stroke-width="1.1" />
<line x1="325.7" y1="540.51" x2="328.3" y2="540.51" stroke="#b53030" stroke-width="1.1" />
<line x1="273.8" y1="485.75" x2="273.8" y2="495.64" stroke="#4a4a4a" stroke-width="1.1" />
<line x1="272.5" y1="485.75" x2="275.1" y2="485.75" stroke="#4a4a4a" stroke-width="1.1" />
<line x1="272.5" y1="495.64" x2="275.1" y2="495.64" stroke="#4a4a4a" stroke-width="1.1" />
<polyline points="220.6,542.79 247.2,505.83 273.8,491.68 327,481.65" fill="none" stroke="#4a4a4a" stroke-width="1.4"/>
<polyline points="220.6,567.13 247.2,536.86 273.8,527.28 327,514.65" fill="none" stroke="#b53030" stroke-width="1.4"/>
<rect x="218.8" y="540.99" width="3.6" height="3.6" fill="#4a4a4a"/>
<rect x="245.4" y="504.03" width="3.6" height="3.6" fill="#4a4a4a"/>
<rect x="272" y="489.88" width="3.6" height="3.6" fill="#4a4a4a"/>
<rect x="325.2" y="479.85" width="3.6" height="3.6" fill="#4a4a4a"/>
<path d="M220.6,564.83 L222.8,568.63 L218.4,568.63Z" fill="#b53030"/>
<path d="M247.2,534.56 L249.4,538.36 L245,538.36Z" fill="#b53030"/>
<path d="M273.8,524.98 L276,528.78 L271.6,528.78Z" fill="#b53030"/>
<path d="M327,512.35 L329.2,516.15 L324.8,516.15Z" fill="#b53030"/>
<line x1="279.4" y1="592.9" x2="286.8" y2="592.9" stroke="#4a4a4a" stroke-width="1.4" />
<rect x="281.3" y="591.1" width="3.6" height="3.6" fill="#4a4a4a"/>
<text transform="translate(288.6,596.9) scale(1,1.04)" font-size="10.2" fill="#1a1a1a" >WT</text>
<line x1="279.4" y1="605.6" x2="286.8" y2="605.6" stroke="#b53030" stroke-width="1.4" />
<path d="M283.1,603.3 L285.3,607.1 L280.9,607.1Z" fill="#b53030"/>
<text transform="translate(288.8,609.5) scale(1,1.04)" font-size="10.2" fill="#1a1a1a"><tspan font-style="italic">Fancc</tspan><tspan font-size="7.14" dy="-3.88" font-style="italic">-/-</tspan></text>
<text x="365.4" y="461.6" font-size="12" font-weight="bold" fill="#1a1a1a" >I</text>
<line x1="400.7" y1="620" x2="400.7" y2="469.6" stroke="#1c1c1c" stroke-width="1.3" />
<line x1="397.7" y1="620" x2="400.7" y2="620" stroke="#1c1c1c" stroke-width="1.3" />
<text transform="translate(395.8,624.16) scale(1,1.04)" font-size="9.9" text-anchor="end" fill="#1a1a1a" >0</text>
<line x1="397.7" y1="604.96" x2="400.7" y2="604.96" stroke="#1c1c1c" stroke-width="1.3" />
<text transform="translate(395.8,609.12) scale(1,1.04)" font-size="9.9" text-anchor="end" fill="#1a1a1a" >10</text>
<line x1="397.7" y1="589.92" x2="400.7" y2="589.92" stroke="#1c1c1c" stroke-width="1.3" />
<text transform="translate(395.8,594.08) scale(1,1.04)" font-size="9.9" text-anchor="end" fill="#1a1a1a" >20</text>
<line x1="397.7" y1="574.88" x2="400.7" y2="574.88" stroke="#1c1c1c" stroke-width="1.3" />
<text transform="translate(395.8,579.04) scale(1,1.04)" font-size="9.9" text-anchor="end" fill="#1a1a1a" >30</text>
<line x1="397.7" y1="559.84" x2="400.7" y2="559.84" stroke="#1c1c1c" stroke-width="1.3" />
<text transform="translate(395.8,564) scale(1,1.04)" font-size="9.9" text-anchor="end" fill="#1a1a1a" >40</text>
<line x1="397.7" y1="544.8" x2="400.7" y2="544.8" stroke="#1c1c1c" stroke-width="1.3" />
<text transform="translate(395.8,548.96) scale(1,1.04)" font-size="9.9" text-anchor="end" fill="#1a1a1a" >50</text>
<line x1="397.7" y1="529.76" x2="400.7" y2="529.76" stroke="#1c1c1c" stroke-width="1.3" />
<text transform="translate(395.8,533.92) scale(1,1.04)" font-size="9.9" text-anchor="end" fill="#1a1a1a" >60</text>
<line x1="397.7" y1="514.72" x2="400.7" y2="514.72" stroke="#1c1c1c" stroke-width="1.3" />
<text transform="translate(395.8,518.88) scale(1,1.04)" font-size="9.9" text-anchor="end" fill="#1a1a1a" >70</text>
<line x1="397.7" y1="499.68" x2="400.7" y2="499.68" stroke="#1c1c1c" stroke-width="1.3" />
<text transform="translate(395.8,503.84) scale(1,1.04)" font-size="9.9" text-anchor="end" fill="#1a1a1a" >80</text>
<line x1="397.7" y1="484.64" x2="400.7" y2="484.64" stroke="#1c1c1c" stroke-width="1.3" />
<text transform="translate(395.8,488.8) scale(1,1.04)" font-size="9.9" text-anchor="end" fill="#1a1a1a" >90</text>
<line x1="397.7" y1="469.6" x2="400.7" y2="469.6" stroke="#1c1c1c" stroke-width="1.3" />
<text transform="translate(395.8,473.76) scale(1,1.04)" font-size="9.9" text-anchor="end" fill="#1a1a1a" >100</text>
<line x1="400.7" y1="620" x2="517.2" y2="620" stroke="#1c1c1c" stroke-width="1.3" />
<line x1="400.7" y1="620" x2="400.7" y2="622.5" stroke="#1c1c1c" stroke-width="1.3" />
<line x1="439.1" y1="620" x2="439.1" y2="622.5" stroke="#1c1c1c" stroke-width="1.3" />
<line x1="478.2" y1="620" x2="478.2" y2="622.5" stroke="#1c1c1c" stroke-width="1.3" />
<line x1="517.2" y1="620" x2="517.2" y2="622.5" stroke="#1c1c1c" stroke-width="1.3" />
<rect x="431.5" y="499.2" width="3.8" height="3.8" fill="#474747"/>
<rect x="437.2" y="501.9" width="3.8" height="3.8" fill="#474747"/>
<rect x="443" y="498.9" width="3.8" height="3.8" fill="#474747"/>
<rect x="427.8" y="510.1" width="3.8" height="3.8" fill="#474747"/>
<rect x="433.5" y="513.2" width="3.8" height="3.8" fill="#474747"/>
<rect x="441.5" y="515" width="3.8" height="3.8" fill="#474747"/>
<rect x="447" y="511.6" width="3.8" height="3.8" fill="#474747"/>
<rect x="433.5" y="536.9" width="3.8" height="3.8" fill="#474747"/>
<rect x="441.2" y="534.7" width="3.8" height="3.8" fill="#474747"/>
<rect x="437.2" y="570.1" width="3.8" height="3.8" fill="#474747"/>
<line x1="434.2" y1="521.1" x2="444.2" y2="521.1" stroke="#111" stroke-width="1.9" />
<line x1="439.1" y1="513.8" x2="439.1" y2="528.2" stroke="#111" stroke-width="1.2" />
<line x1="438" y1="513.8" x2="440.2" y2="513.8" stroke="#111" stroke-width="1.0" />
<line x1="438" y1="528.2" x2="440.2" y2="528.2" stroke="#111" stroke-width="1.0" />
<path d="M478,512 L480.2,515.9 L475.8,515.9Z" fill="#b3302b"/>
<path d="M478,535.9 L480.2,539.8 L475.8,539.8Z" fill="#b3302b"/>
<path d="M472,593.9 L474.2,597.8 L469.8,597.8Z" fill="#b3302b"/>
<path d="M478.2,595.1 L480.4,599 L476,599Z" fill="#b3302b"/>
<path d="M484.3,593.9 L486.5,597.8 L482.1,597.8Z" fill="#b3302b"/>
<path d="M478.2,612.3 L480.4,616.2 L476,616.2Z" fill="#b3302b"/>
<path d="M472,617.2 L474.2,621.1 L469.8,621.1Z" fill="#b3302b"/>
<path d="M478.2,617.2 L480.4,621.1 L476,621.1Z" fill="#b3302b"/>
<path d="M484.3,617.2 L486.5,621.1 L482.1,621.1Z" fill="#b3302b"/>
<line x1="473.1" y1="590.3" x2="483.4" y2="590.3" stroke="#111" stroke-width="1.9" />
<line x1="478.2" y1="577.4" x2="478.2" y2="603.1" stroke="#111" stroke-width="1.2" />
<line x1="477.1" y1="577.4" x2="479.3" y2="577.4" stroke="#111" stroke-width="1.0" />
<line x1="477.1" y1="603.1" x2="479.3" y2="603.1" stroke="#111" stroke-width="1.0" />
<text transform="translate(462,490) scale(1,1.04)" font-size="14" text-anchor="middle" fill="#1a1a1a" >*</text>
<text transform="translate(439.1,635.4) scale(1,1.04)" font-size="10" text-anchor="middle" fill="#1a1a1a" >WT</text>
<text transform="translate(462.6,635.4) scale(1,1.04)" font-size="10" fill="#1a1a1a"><tspan font-style="italic">Fancc</tspan><tspan font-size="7" dy="-3.8" font-style="italic">-/-</tspan></text>
<text transform="translate(451.5,649.6) scale(1,1.04)" font-size="10.75" text-anchor="middle" fill="#1a1a1a" >Donor Cell Genotype</text>
<text transform="translate(376.3,546) rotate(-90)" text-anchor="middle" fill="#1a1a1a" font-size="10.8">% CD45.2<tspan font-size="6.5" dy="-3.6">+</tspan></text>
</svg></body></html>
